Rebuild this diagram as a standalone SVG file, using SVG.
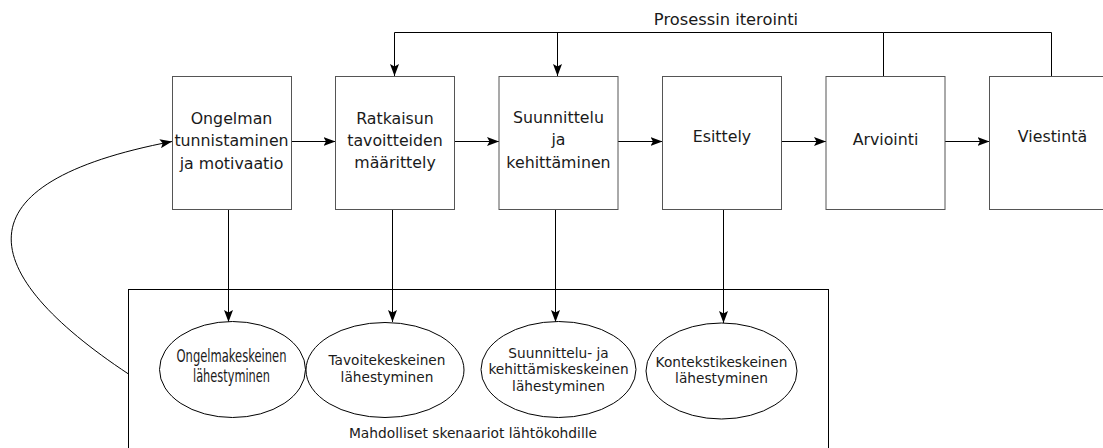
<svg xmlns="http://www.w3.org/2000/svg" width="1103" height="448" viewBox="0 0 1103 448">
<style>
text{font-family:"DejaVu Sans","Liberation Sans",sans-serif;fill:#1a1a1a;text-anchor:middle}
.box{fill:#fff;stroke:#555;stroke-width:1}
.lbl{font-size:15.8px}
.el{fill:#fff;stroke:#000;stroke-width:1}
.elt{font-size:13.7px}
.cond{font-size:17px}
.con{fill:none;stroke:#000;stroke-width:1}
.arr{marker-end:url(#ah)}
</style>
<defs>
<marker id="ah" markerUnits="userSpaceOnUse" markerWidth="12" markerHeight="9" refX="12" refY="4.5" orient="auto">
<path d="M0,0 L12,4.5 L0,9 L2.5,4.5 Z" fill="#000"/>
</marker>
</defs>
<rect width="1103" height="448" fill="#fff"/>
<g id="scenarios">
<rect x="128.5" y="289.5" width="700" height="170" fill="none" stroke="#000"/>
<text x="473" y="438" style="font-size:13.8px">Mahdolliset skenaariot lähtökohdille</text>
</g>
<g id="connectors">
<path class="con arr" d="M128.5,374 C-24.9,272.3 -45,183 172,141.5"/>
<path class="con" d="M883.5,76 V32.5 H394.5"/>
<path class="con" d="M1051.5,76 V32.5 H883.5"/>
<path class="con arr" d="M394.5,32.5 V76"/>
<path class="con arr" d="M557.5,32.5 V76"/>
<path class="con arr" d="M291,141.5 H335.5"/>
<path class="con arr" d="M454.5,141.5 H499"/>
<path class="con arr" d="M618,141.5 H662.5"/>
<path class="con arr" d="M781.5,141.5 H826"/>
<path class="con arr" d="M945,141.5 H989.5"/>
<path class="con arr" d="M228.5,209 V322"/>
<path class="con arr" d="M392.5,209 V322"/>
<path class="con arr" d="M555.5,209 V322"/>
<path class="con arr" d="M723.5,209 V323"/>
<text x="726" y="25" style="font-size:16.3px">Prosessin iterointi</text>
</g>
<g id="n1">
<rect class="box" x="172.5" y="76.5" width="119" height="133"/>
<text class="lbl" x="231.5" y="123.5">Ongelman</text>
<text class="lbl" x="231.5" y="146">tunnistaminen</text>
<text class="lbl" x="231.5" y="168.5">ja motivaatio</text>
</g>
<g id="n2">
<rect class="box" x="335.5" y="76.5" width="119" height="133"/>
<text class="lbl" x="395" y="123.5">Ratkaisun</text>
<text class="lbl" x="395" y="146">tavoitteiden</text>
<text class="lbl" x="395" y="168">määrittely</text>
</g>
<g id="n3">
<rect class="box" x="499" y="76.5" width="119" height="133"/>
<text class="lbl" x="558.5" y="122.5">Suunnittelu</text>
<text class="lbl" x="558.5" y="145">ja</text>
<text class="lbl" x="558.5" y="167.5">kehittäminen</text>
</g>
<g id="n4">
<rect class="box" x="662.5" y="76.5" width="119" height="133"/>
<text class="lbl" x="722" y="142">Esittely</text>
</g>
<g id="n5">
<rect class="box" x="826" y="76.5" width="119" height="133"/>
<text class="lbl" x="885.5" y="144.5">Arviointi</text>
</g>
<g id="n6">
<rect class="box" x="989.5" y="76.5" width="119" height="133"/>
<text class="lbl" x="1052.5" y="142">Viestintä</text>
</g>
<g id="e1">
<ellipse class="el" cx="232.5" cy="369.5" rx="73" ry="48"/>
<text class="cond" x="231.5" y="361.5" textLength="110" lengthAdjust="spacingAndGlyphs">Ongelmakeskeinen</text>
<text class="cond" x="231.5" y="381.5" textLength="77" lengthAdjust="spacingAndGlyphs">lähestyminen</text>
</g>
<g id="e2">
<ellipse class="el" cx="385" cy="370" rx="79" ry="47.5"/>
<text class="elt" x="387" y="364.5">Tavoitekeskeinen</text>
<text class="elt" x="387" y="381.5">lähestyminen</text>
</g>
<g id="e3">
<ellipse class="el" cx="558.5" cy="369.5" rx="77.5" ry="48"/>
<text class="elt" x="558.5" y="357.5">Suunnittelu- ja</text>
<text class="elt" x="558.5" y="374">kehittämiskeskeinen</text>
<text class="elt" x="558.5" y="390.5">lähestyminen</text>
</g>
<g id="e4">
<ellipse class="el" cx="721.5" cy="371" rx="75.5" ry="48"/>
<text class="elt" x="721.5" y="366.5">Kontekstikeskeinen</text>
<text class="elt" x="721.5" y="383">lähestyminen</text>
</g>
</svg>
